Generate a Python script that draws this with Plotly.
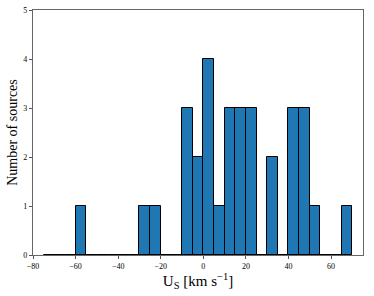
import plotly.graph_objects as go

bin_left = [-75, -70, -65, -60, -55, -50, -45, -40, -35, -30, -25, -20, -15, -10, -5,
            0, 5, 10, 15, 20, 25, 30, 35, 40, 45, 50, 55, 60, 65]
counts = [0, 0, 0, 1, 0, 0, 0, 0, 0, 1, 1, 0, 0, 3, 2,
          4, 1, 3, 3, 3, 0, 2, 0, 3, 3, 1, 0, 0, 1]
bin_width = 5
x_ticks = [-80, -60, -40, -20, 0, 20, 40, 60]
y_ticks = [0, 1, 2, 3, 4, 5]

fig = go.Figure()
fig.add_trace(go.Bar(
    x=bin_left, y=counts, width=bin_width, offset=0,
    marker=dict(color="#1f77b4", line=dict(color="black", width=1)),
))

font = "Liberation Serif, Times New Roman, serif"
fig.update_layout(
    width=374, height=296,
    margin=dict(l=33, r=11, t=10, b=41),
    paper_bgcolor="white", plot_bgcolor="white",
    showlegend=False, bargap=0,
    font=dict(family=font, color="black", size=8),
)
fig.update_xaxes(
    range=[-80, 75], tickvals=x_ticks, ticktext=[str(v).replace("-", "\u2212") for v in x_ticks],
    ticks="outside", ticklen=3, tickwidth=1, tickcolor="#555",
    tickfont=dict(color="black", size=8, family=font),
    showline=True, linecolor="#666", linewidth=1.2, mirror=True,
    showgrid=False, zeroline=False, automargin=False,
    title=dict(text="U<sub>S</sub> [km s<sup>\u22121</sup>]", font=dict(size=15, family=font, color="black"), standoff=5),
)
fig.update_yaxes(
    range=[0, 5], tickvals=y_ticks,
    ticks="outside", ticklen=3, tickwidth=1, tickcolor="#555",
    tickfont=dict(color="black", size=8, family=font),
    showline=True, linecolor="#666", linewidth=1.2, mirror=True,
    showgrid=False, zeroline=False, automargin=False,
    title=dict(text="Number of sources", font=dict(size=14, family=font, color="black"), standoff=2),
)
fig.write_html("out.html", config={"displayModeBar": False},
               post_script="document.body.style.margin='0';document.body.style.overflow='hidden';")
